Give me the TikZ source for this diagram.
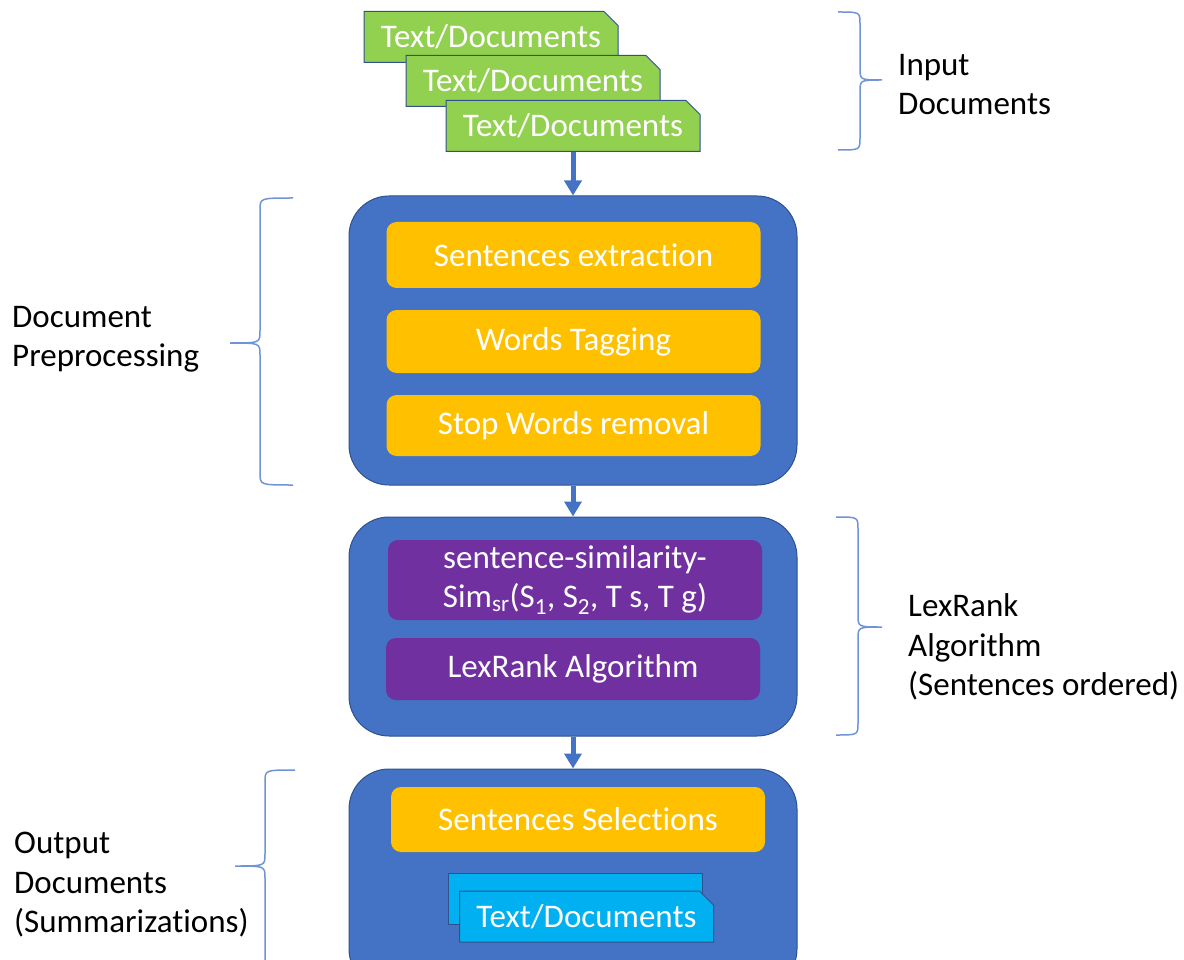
\documentclass[tikz,border=0pt]{standalone}
\usepackage{fontspec}
\setmainfont{Carlito}[Ligatures=NoCommon]
\usetikzlibrary{arrows.meta,positioning,shapes.misc}
\definecolor{panelblue}{HTML}{4472C4}
\definecolor{panelline}{HTML}{2F528F}
\definecolor{stepgold}{HTML}{FFC000}
\definecolor{steppurple}{HTML}{7030A0}
\definecolor{docgreen}{HTML}{92D050}
\definecolor{doccyan}{HTML}{00B0F0}
\definecolor{braceblue}{HTML}{6F94D6}

\begin{document}
\begin{tikzpicture}[x=1pt, y=-1pt,
  font=\fontsize{33}{39.5}\selectfont,
  panel/.style={draw=panelline, line width=1pt, fill=panelblue, rounded corners=40pt,
                minimum width=448pt, minimum height=#1, inner sep=0pt},
  bar/.style={rounded corners=10pt, text=white, align=center, minimum width=374pt,
              minimum height=#1, inner sep=0pt, fill=stepgold},
  purplebar/.style={bar=#1, fill=steppurple},
  doc/.style={chamfered rectangle, chamfered rectangle corners=north east,
              chamfered rectangle xsep=7pt, chamfered rectangle ysep=7pt,
              draw=panelline, line width=1pt, fill=#1, text=white,
              minimum width=254pt, minimum height=51pt, inner sep=0pt},
  arr/.style={-{Triangle[width=17pt, length=15pt]}, line width=5pt, panelblue},
  curly/.style={braceblue, line width=1.5pt},
  label/.style={align=left, anchor=west, inner sep=0pt}]
\useasboundingbox (0,0) rectangle (1184,960);
% input documents
\node[doc=docgreen] (d1) at (491,37) {Text/Documents};
\node[doc=docgreen] (d2) at (533,81) {Text/Documents};
\node[doc=docgreen] (d3) at (573,126) {Text/Documents};
% preprocessing
\node[panel=289pt] (pre) at (573,340.5) {};
\node[bar=66pt] (extract) at (573.5,255) {Sentences extraction};
\node[bar=63pt] (tag) at (573.5,341.5) {Words Tagging};
\node[bar=61pt] (stop) at (573.5,425.5) {Stop Words removal};
% lexrank
\node[panel=219pt] (lex) at (573,626.5) {};
\node[purplebar=80pt] (sim) at (575,580) {sentence-similarity-\\Sim\textsubscript{sr}(S\textsubscript{1}, S\textsubscript{2}, T s, T g)};
\node[purplebar=62pt] (rank) at (573,669) {LexRank Algorithm};
% output
\node[panel=220pt] (out) at (573,879) {};
\node[bar=65pt] (select) at (578,819.5) {Sentences Selections};
\node[doc=doccyan] (s1) at (575,898.5) {};
\node[doc=doccyan] (s2) at (586.5,916.5) {Text/Documents};
\draw[arr] (d3.south) -- (pre.north);
\draw[arr] (pre.south) -- (lex.north);
\draw[arr] (lex.south) -- (out.north);
% braces
\draw[curly] (838,12) .. controls (860,12) .. (860,24) -- (860,68)
  .. controls (860,80) .. (882,80) .. controls (860,80) .. (860,92) -- (860,138)
  .. controls (860,150) .. (838,150);
\draw[curly] (293,198) .. controls (260,198) .. (260,210) -- (260,331)
  .. controls (260,343) .. (230,343) .. controls (260,343) .. (260,355) -- (260,473)
  .. controls (260,485) .. (293,485);
\draw[curly] (836,517) .. controls (858,517) .. (858,529) -- (858,615)
  .. controls (858,627) .. (882,627) .. controls (858,627) .. (858,639) -- (858,723)
  .. controls (858,735) .. (836,735);
\draw[curly] (295,770) .. controls (265,770) .. (265,782) -- (265,854)
  .. controls (265,866) .. (235,866) .. controls (265,866) .. (265,878) -- (265,990);
% labels
\node[label] (inLbl) at (898,84.5) {Input\\Documents};
\node[label] (preLbl) at (12,339) {Document\\Preprocessing};
\node[label] (lexLbl) at (908,647) {LexRank\\Algorithm\\(Sentences ordered)};
\node[label] (outLbl) at (14,885) {Output\\Documents\\(Summarizations)};
\end{tikzpicture}
\end{document}
